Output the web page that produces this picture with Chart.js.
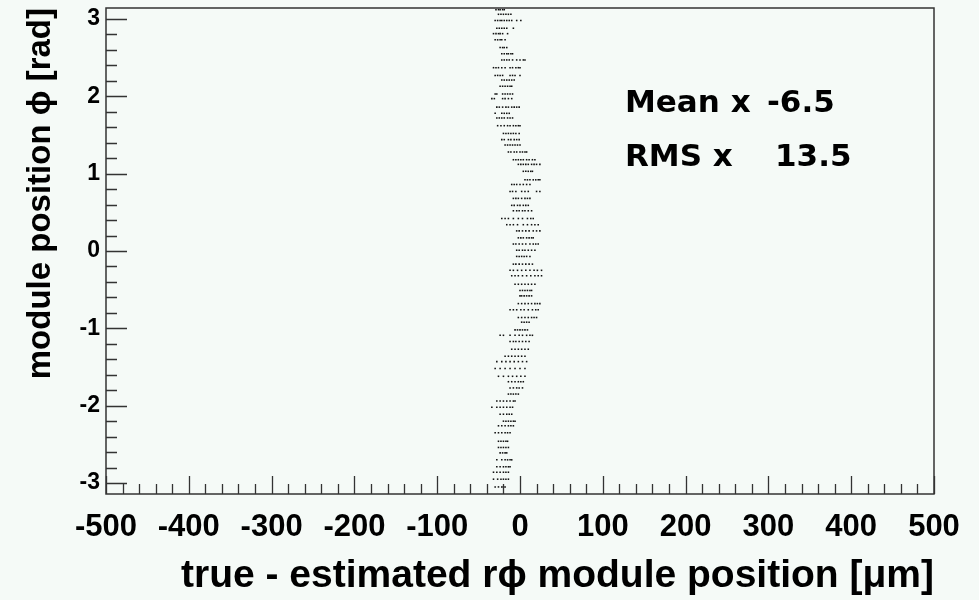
<!DOCTYPE html>
<html>
<head>
<meta charset="utf-8">
<script src="https://cdn.jsdelivr.net/npm/chart.js@4.4.0/dist/chart.umd.min.js"></script>
<style>
  body { margin: 0; background: #f5faf7; }
  canvas { display: block; }
</style>
</head>
<body>
<canvas id="scat" width="979" height="600"></canvas>
<script>
// module phi of each row of dots [rad]
var rowPhi = [
  3.12, 3.06, 2.98, 2.88, 2.81, 2.73, 2.63, 2.55, 2.47, 2.37,
  2.27, 2.21, 2.13, 2.03, 1.97, 1.86, 1.78, 1.72, 1.62, 1.52,
  1.44, 1.37, 1.28, 1.18, 1.12, 1.03, 0.92, 0.86, 0.77, 0.68,
  0.59, 0.52, 0.42, 0.34, 0.26, 0.17, 0.09, 0.01, -0.07, -0.17,
  -0.25, -0.32, -0.43, -0.51, -0.58, -0.68, -0.76, -0.86, -0.92, -1.02,
  -1.09, -1.17, -1.27, -1.36, -1.43, -1.52, -1.62, -1.69, -1.77, -1.85,
  -1.94, -2.02, -2.11, -2.20, -2.26, -2.35, -2.46, -2.54, -2.61, -2.70,
  -2.79, -2.86, -2.95, -3.05
];

// true - estimated r*phi residuals in each row [um]
var rowResid = [
  [-29, -26, -24, -21, -19],
  [-26, -23, -20, -17, -14, -11],
  [-30, -27, -24, -22, -19, -16, -13, -10, -4, 1],
  [-28, -25, -22, -19, -16, -8],
  [-32, -29, -26, -24, -21, -15],
  [-30, -27, -24, -22, -18],
  [-24, -21, -19, -16],
  [-22, -19, -16, -14, -11, -9],
  [-22, -19, -16, -13, -9, -4, 0, 4, 6],
  [-32, -29, -26, -22, -18, -12, -9, -5, -2, 0],
  [-30, -27, -24, -21, -12, -9, -6, 0],
  [-22, -19, -16, -13, -10, -7],
  [-24, -21, -18, -15, -12, -10],
  [-30, -28, -21, -18, -15, -12, -9],
  [-34, -31, -21, -18, -14, -10],
  [-28, -25, -21, -17, -14, -10, -7, -4, -1],
  [-30, -22, -19, -16, -13],
  [-28, -25, -22, -19, -15, -12, -9],
  [-27, -23, -19, -15, -12, -8, -5, -2, 0],
  [-20, -17, -14, -11, -8, -5, -1],
  [-22, -19, -14, -11, -7, -4, -1],
  [-18, -15, -12, -9, -6, -3, 0],
  [-14, -11, -7, -4, 0, 3, 6, 8],
  [-8, -5, -2, 1, 4, 8, 11, 15, 18],
  [-2, 1, 4, 7, 10, 14, 17, 20, 24],
  [4, 7, 10, 13, 15],
  [6, 9, 12, 16, 19, 22, 24],
  [-10, -7, -4, 0, 4, 8, 12],
  [-12, -9, -5, 2, 6, 10, 20, 24],
  [-8, -5, -2, 2, 6, 9, 12],
  [-10, -7, -3, 0, 4, 7, 10],
  [-8, -4, -1, 3, 6, 10, 14],
  [-22, -18, -14, -8, -2, 3, 9, 13, 16],
  [-16, -12, -8, -3, 4, 9, 14, 18, 22],
  [-4, -1, 3, 7, 11, 16, 20, 24],
  [-2, 1, 4, 8, 11, 14, 16],
  [-8, -5, -1, 3, 7, 12, 16, 19, 22],
  [-4, -1, 3, 6, 10, 14, 18],
  [-4, -1, 2, 5, 8, 12],
  [-8, -5, -1, 3, 7, 11, 15],
  [-12, -8, -3, 2, 7, 12, 17, 21, 26],
  [-10, -6, -2, 3, 8, 13, 18, 22, 26],
  [-6, -2, 2, 6, 10, 14, 18],
  [0, 3, 6, 9, 12, 14],
  [0, 2, 5, 8, 11, 14],
  [-2, 2, 6, 10, 14, 18, 21, 24],
  [-12, -8, -4, 1, 5, 10, 15, 19, 22],
  [-2, 2, 6, 10, 14, 17, 20],
  [2, 5, 8, 11],
  [-6, -3, 0, 3, 6, 9],
  [-24, -20, -12, -6, -1, 3, 8, 12, 15],
  [-12, -8, -5, -1, 3, 7, 11],
  [-10, -6, -2, 2, 6, 10],
  [-18, -14, -10, -6, -2, 2, 6],
  [-28, -22, -17, -12, -7, -2, 3, 8],
  [-30, -24, -18, -12, -6, 0, 6],
  [-26, -20, -14, -9, -4, 1, 6],
  [-14, -10, -6, -2, 1, 4],
  [-12, -8, -4, -1, 3],
  [-14, -11, -8, -5, -2],
  [-28, -24, -20, -16, -12, -8, -6],
  [-34, -28, -24, -20, -16, -12, -9],
  [-24, -20, -16, -13, -10],
  [-20, -17, -14, -11, -8, -6],
  [-26, -22, -18, -14, -11, -8],
  [-30, -26, -22, -18, -15, -12],
  [-26, -23, -20, -17, -15],
  [-26, -23, -20, -17, -14],
  [-24, -21, -18, -16],
  [-28, -22, -18, -15, -12, -10],
  [-28, -24, -20, -17, -14, -12],
  [-32, -28, -24, -20, -17, -14],
  [-32, -27, -23, -20, -17, -14],
  [-30, -26, -22, -20, -18]
];

var xTickLabels = [-500, -400, -300, -200, -100, 0, 100, 200, 300, 400, 500];
var yTickLabels = [-3, -2, -1, 0, 1, 2, 3];
var statNames = ['Mean x', 'RMS x'];
var statValues = ['-6.5', '13.5'];

var points = [];
rowPhi.forEach(function (phi, i) {
  rowResid[i].forEach(function (r) {
    points.push({ x: r, y: phi });
  });
});

var bold = function (size) {
  return { family: "'Liberation Sans', Arial, sans-serif", size: size, weight: 'bold' };
};

// frame, inward ticks (ROOT style) and the stats text
var rootFrame = {
  id: 'rootFrame',
  afterDraw: function (chart) {
    var ctx = chart.ctx, a = chart.chartArea;
    var xs = chart.scales.x, ys = chart.scales.y;
    ctx.save();
    ctx.strokeStyle = '#333';
    ctx.lineWidth = 1.5;
    ctx.strokeRect(a.left, a.top, a.right - a.left, a.bottom - a.top);

    ctx.beginPath();
    for (var v = xs.min; v <= xs.max + 1e-6; v += 20) {
      var px = Math.round(xs.getPixelForValue(v)) + 0.5;
      var len = Math.abs(v % 100) < 1e-6 ? 18 : 10;
      ctx.moveTo(px, a.bottom);
      ctx.lineTo(px, a.bottom - len);
    }
    for (var k = -16; k <= 16; k++) {
      var w = k * 0.2;
      if (w < ys.min || w > ys.max) continue;
      var py = Math.round(ys.getPixelForValue(w)) + 0.5;
      var ylen = k % 5 === 0 ? 21 : 11;
      ctx.moveTo(a.left, py);
      ctx.lineTo(a.left + ylen, py);
    }
    ctx.lineWidth = 1.3;
    ctx.stroke();

    ctx.fillStyle = '#000';
    ctx.font = "bold 31px 'DejaVu Sans', sans-serif";
    ctx.textBaseline = 'alphabetic';
    ctx.textAlign = 'left';
    ctx.fillText(statNames[0], 625, 112);
    ctx.fillText(statNames[1], 625, 166);
    ctx.fillText(statValues[0], 767, 112);
    ctx.fillText(statValues[1], 775, 166);
    ctx.restore();
  }
};

new Chart(document.getElementById('scat').getContext('2d'), {
  type: 'scatter',
  data: {
    datasets: [{
      data: points,
      pointStyle: 'rect',
      pointRadius: 1.1,
      backgroundColor: '#111',
      borderWidth: 0
    }]
  },
  options: {
    responsive: false,
    animation: false,
    layout: { padding: { top: 8, right: 45, left: 0, bottom: 0 } },
    plugins: { legend: { display: false }, tooltip: { enabled: false } },
    scales: {
      x: {
        min: -500,
        max: 500,
        afterBuildTicks: function (s) {
          s.ticks = xTickLabels.map(function (v) { return { value: v }; });
        },
        afterFit: function (s) {
          s.height = 106;
          s.paddingLeft = 0;
          s.paddingRight = 0;
        },
        grid: { display: false, drawTicks: false },
        border: { display: false },
        ticks: { font: bold(31), color: '#000', padding: 15, maxRotation: 0, autoSkip: false },
        title: {
          display: true,
          text: 'true - estimated r\u03d5 module position [\u03bcm]',
          align: 'end',
          color: '#000',
          font: bold(39),
          padding: { top: 0, bottom: 0 }
        }
      },
      y: {
        min: -Math.PI,
        max: Math.PI,
        afterBuildTicks: function (s) {
          s.ticks = yTickLabels.map(function (v) { return { value: v }; });
        },
        afterFit: function (s) {
          s.width = 106;
          s.paddingTop = 0;
          s.paddingBottom = 0;
        },
        grid: { display: false, drawTicks: false },
        border: { display: false },
        ticks: { font: bold(23), color: '#000', padding: 6, autoSkip: false },
        title: {
          display: true,
          text: 'module position \u03d5 [rad]',
          align: 'end',
          color: '#000',
          font: bold(33),
          padding: { top: 21, bottom: 0 }
        }
      }
    }
  },
  plugins: [rootFrame]
});
</script>
</body>
</html>
